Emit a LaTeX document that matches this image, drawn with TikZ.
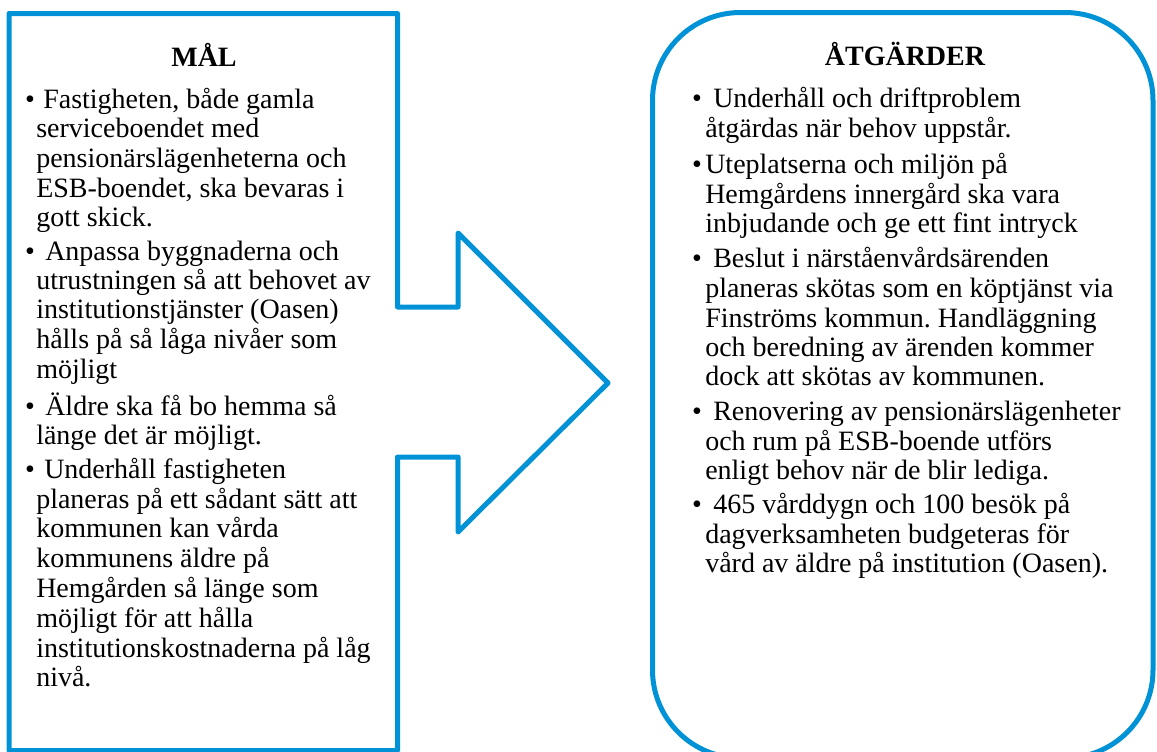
\documentclass[tikz,border=0pt]{standalone}
\usepackage{fontspec}
\setmainfont{Liberation Serif}
\frenchspacing
\definecolor{frameblue}{RGB}{0,146,214}
\tikzset{
  frame/.style={draw=frameblue, line width=3.75pt, line join=round},
  ln/.style={anchor=base west, inner sep=0pt, font=\fontsize{21}{25}\selectfont},
  bul/.style={anchor=base, inner sep=0pt, font=\fontsize{21}{25}\selectfont},
  ttl/.style={anchor=base, inner sep=0pt, font=\fontsize{21}{25}\selectfont\bfseries}
}
\begin{document}
\begin{tikzpicture}[x=0.75pt, y=-0.75pt]
\useasboundingbox (0,0) rectangle (1157,751);
\clip (0,0) rectangle (1157,751);
% left box with arrow
\draw[frame] (9,13.5) -- (397.5,13.5) -- (397.5,307) -- (458,307) -- (458,233)
  -- (608,383) -- (458,532) -- (458,457) -- (397.5,457) -- (397.5,750.5)
  -- (9,750.5) -- cycle;
% right rounded box
\draw[frame, rounded corners=66pt] (652.5,12.5) rectangle (1153,758);

% left texts
\node[ttl] (lt) at (204,66) {MÅL};
\node[bul] (lb1) at (30,108) {•};
\node[ln] (l1) at (43,108) {Fastigheten, både gamla};
\node[ln] (l2) at (36,137) {serviceboendet med};
\node[ln] (l3) at (36,167) {pensionärslägenheterna och};
\node[ln] (l4) at (36,197) {ESB-boendet, ska bevaras i};
\node[ln] (l5) at (36,226) {gott skick.};
\node[bul] (lb2) at (30,260) {•};
\node[ln] (l6) at (45,260) {Anpassa byggnaderna och};
\node[ln] (l7) at (36,289) {utrustningen så att behovet av};
\node[ln] (l8) at (36,318) {institutionstjänster (Oasen)};
\node[ln] (l9) at (36,348) {hålls på så låga nivåer som};
\node[ln] (l10) at (36,378) {möjligt};
\node[bul] (lb3) at (30,415) {•};
\node[ln] (l11) at (45,415) {Äldre ska få bo hemma så};
\node[ln] (l12) at (36,444) {länge det är möjligt.};
\node[bul] (lb4) at (30,478) {•};
\node[ln] (l13) at (44,478) {Underhåll fastigheten};
\node[ln] (l14) at (36,508) {planeras på ett sådant sätt att};
\node[ln] (l15) at (36,537) {kommunen kan vårda};
\node[ln] (l16) at (36,567) {kommunens äldre på};
\node[ln] (l17) at (36,597) {Hemgården så länge som};
\node[ln] (l18) at (36,627) {möjligt för att hålla};
\node[ln] (l19) at (36,657) {institutionskostnaderna på låg};
\node[ln] (l20) at (36,686) {nivå.};

% right texts
\node[ttl] (rt) at (905,65) {ÅTGÄRDER};
\node[bul] (rb1) at (697,107) {•};
\node[ln] (r1) at (713,107) {Underhåll och driftproblem};
\node[ln] (r2) at (705,137) {åtgärdas när behov uppstår.};
\node[bul] (rb2) at (697,173) {•};
\node[ln] (r3) at (705,173) {Uteplatserna och miljön på};
\node[ln] (r4) at (705,203) {Hemgårdens innergård ska vara};
\node[ln] (r5) at (705,232) {inbjudande och ge ett fint intryck};
\node[bul] (rb3) at (697,267) {•};
\node[ln] (r6) at (713,267) {Beslut i närståenvårdsärenden};
\node[ln] (r7) at (705,297) {planeras skötas som en köptjänst via};
\node[ln] (r8) at (705,327) {Finströms kommun. Handläggning};
\node[ln] (r9) at (705,356) {och beredning av ärenden kommer};
\node[ln] (r10) at (705,385) {dock att skötas av kommunen.};
\node[bul] (rb4) at (697,420) {•};
\node[ln] (r11) at (713,420) {Renovering av pensionärslägenheter};
\node[ln] (r12) at (705,450) {och rum på ESB-boende utförs};
\node[ln] (r13) at (705,479) {enligt behov när de blir lediga.};
\node[bul] (rb5) at (697,513) {•};
\node[ln] (r14) at (713,513) {465 vårddygn och 100 besök på};
\node[ln] (r15) at (705,543) {dagverksamheten budgeteras för};
\node[ln] (r16) at (705,572) {vård av äldre på institution (Oasen).};
\end{tikzpicture}
\end{document}
